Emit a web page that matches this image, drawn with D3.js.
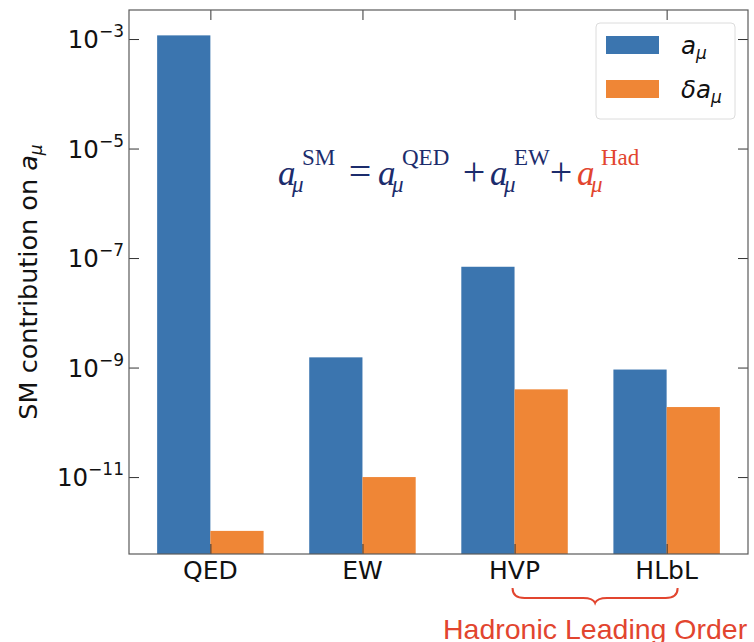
<!DOCTYPE html>
<html>
<head>
<meta charset="utf-8">
<script src="https://cdn.jsdelivr.net/npm/d3@7"></script>
<style>
  html, body { margin: 0; padding: 0; background: #fff; }
  svg { display: block; }
</style>
</head>
<body>
<svg id="chart" width="754" height="642"></svg>
<script>
// Standard Model contributions to the muon anomaly and their uncertainties
const categories = ["QED", "EW", "HVP", "HLbL"];
const amuValues = [1.16584718931e-3, 1.536e-9, 6.931e-8, 9.2e-10];
const deltaValues = [1.04e-12, 1.0e-11, 4.0e-10, 1.9e-10];
const yTickExponents = [-3, -5, -7, -9, -11];
const seriesNames = ["a", "δa"];

const blue = "#3b75af";
const orange = "#ef8636";
const navy = "#1c2c6c";
const red = "#e2452f";
const barWidth = 0.35;

const svg = d3.select("#chart");
const plotLeft = 129, plotRight = 748, plotTop = 10, plotBottom = 554;

const x = d3.scaleLinear()
  .domain([-0.535, categories.length - 1 + 0.535])
  .range([plotLeft, plotRight]);
const y = d3.scaleLog()
  .domain([Math.pow(10, -12.405), Math.pow(10, -2.47)])
  .range([plotBottom, plotTop]);

// bars
const gBars = svg.append("g");
gBars.selectAll("rect.amu").data(amuValues).join("rect")
  .attr("class", "amu")
  .attr("x", (d, i) => x(i - barWidth))
  .attr("width", (d, i) => x(i) - x(i - barWidth))
  .attr("y", d => y(d))
  .attr("height", d => plotBottom - y(d))
  .attr("fill", blue);
gBars.selectAll("rect.delta").data(deltaValues).join("rect")
  .attr("class", "delta")
  .attr("x", (d, i) => x(i))
  .attr("width", (d, i) => x(i + barWidth) - x(i))
  .attr("y", d => y(d))
  .attr("height", d => plotBottom - y(d))
  .attr("fill", orange);

// axes with inward ticks on all four sides
const yTicks = yTickExponents.map(e => Math.pow(10, e));
const tickLen = 10;
const axisColor = "#5a5a5a";

svg.append("g").attr("transform", `translate(${plotLeft},0)`)
  .call(d3.axisRight(y).tickValues(yTicks).tickSize(tickLen).tickFormat(""))
  .call(g => g.select(".domain").remove());
svg.append("g").attr("transform", `translate(${plotRight},0)`)
  .call(d3.axisLeft(y).tickValues(yTicks).tickSize(tickLen).tickFormat(""))
  .call(g => g.select(".domain").remove());
svg.append("g").attr("transform", `translate(0,${plotBottom})`)
  .call(d3.axisTop(x).tickValues(d3.range(categories.length)).tickSize(tickLen).tickFormat(""))
  .call(g => g.select(".domain").remove());
svg.append("g").attr("transform", `translate(0,${plotTop})`)
  .call(d3.axisBottom(x).tickValues(d3.range(categories.length)).tickSize(tickLen).tickFormat(""))
  .call(g => g.select(".domain").remove());
svg.selectAll(".tick line").attr("stroke", "#333").attr("stroke-width", 1);

svg.append("rect")
  .attr("x", plotLeft).attr("y", plotTop)
  .attr("width", plotRight - plotLeft).attr("height", plotBottom - plotTop)
  .attr("fill", "none").attr("stroke", axisColor).attr("stroke-width", 1.2);

// y tick labels 10^n
const yLab = svg.append("g")
  .attr("font-family", "DejaVu Sans, sans-serif")
  .attr("fill", "#111");
yTickExponents.forEach(e => {
  const t = yLab.append("text")
    .attr("x", 124).attr("y", y(Math.pow(10, e)) + 9)
    .attr("text-anchor", "end");
  t.append("tspan").attr("font-size", 24.5).text("10");
  t.append("tspan").attr("font-size", 17).attr("dy", -11).text("\u2212" + Math.abs(e));
});

// x tick labels
svg.append("g").selectAll("text").data(categories).join("text")
  .attr("x", (d, i) => x(i)).attr("y", 579)
  .attr("text-anchor", "middle")
  .attr("font-family", "DejaVu Sans, sans-serif")
  .attr("font-size", 25).attr("fill", "#111")
  .text(d => d);

// y axis title
const yTitle = svg.append("text")
  .attr("transform", `translate(37,${(plotTop + plotBottom) / 2}) rotate(-90)`)
  .attr("text-anchor", "middle")
  .attr("font-family", "DejaVu Sans, sans-serif")
  .attr("font-size", 25.5).attr("fill", "#111");
yTitle.append("tspan").text("SM contribution on ");
yTitle.append("tspan").attr("font-style", "italic").text("a");
yTitle.append("tspan").attr("font-style", "italic").attr("font-size", 17).attr("dy", 5).text("μ");

// legend
const legend = svg.append("g");
legend.append("rect")
  .attr("x", 596).attr("y", 23).attr("width", 139).attr("height", 96)
  .attr("rx", 4).attr("fill", "#fff").attr("fill-opacity", 0.85)
  .attr("stroke", "#dcdcdc").attr("stroke-width", 1);
[blue, orange].forEach((c, i) => {
  const yy = 36 + i * 44;
  legend.append("rect").attr("x", 606).attr("y", yy)
    .attr("width", 53).attr("height", 18).attr("fill", c);
  const t = legend.append("text")
    .attr("x", 681).attr("y", yy + 18)
    .attr("font-family", "DejaVu Sans, sans-serif")
    .attr("font-style", "italic").attr("fill", "#111");
  t.append("tspan").attr("font-size", 24.5).text(seriesNames[i]);
  t.append("tspan").attr("font-size", 17).attr("dy", 5).text("μ");
});

// formula a_mu^SM = a_mu^QED + a_mu^EW + a_mu^Had
const f = svg.append("g").attr("font-family", "Liberation Serif, Times New Roman, serif");
const base = 185;
function term(x0, sup, color) {
  const t = f.append("text").attr("x", x0).attr("y", base).attr("fill", color);
  t.append("tspan").attr("font-size", 35).attr("font-style", "italic").text("a");
  t.append("tspan").attr("x", x0 + 14).attr("dy", 7)
    .attr("font-size", 23).attr("font-style", "italic").text("μ");
  t.append("tspan").attr("x", x0 + 24).attr("dy", -27)
    .attr("font-size", 23).text(sup);
}
function op(xc, s) {
  f.append("text").attr("x", xc).attr("y", base)
    .attr("text-anchor", "middle")
    .attr("font-size", 40).attr("fill", navy).text(s);
}
term(278, "SM", navy);
op(360, "=");
term(378, "QED", navy);
op(474, "+");
term(490, "EW", navy);
op(561, "+");
term(577, "Had", red);

// brace and label under the hadronic contributions
const bx0 = x(2) - 2, bx1 = x(3) + 11, bm = (bx0 + bx1) / 2;
svg.append("path")
  .attr("d", `M${bx0},588 Q${bx0},598 ${bx0 + 12},598 L${bm - 12},598 Q${bm - 2},598 ${bm},603 Q${bm + 2},598 ${bm + 12},598 L${bx1 - 12},598 Q${bx1},598 ${bx1},588`)
  .attr("fill", "none").attr("stroke", red).attr("stroke-width", 2);
svg.append("text")
  .attr("x", 443).attr("y", 639)
  .attr("font-family", "Liberation Sans, Arial, sans-serif")
  .attr("font-size", 28.5).attr("fill", red)
  .text("Hadronic Leading Order");
</script>
</body>
</html>
